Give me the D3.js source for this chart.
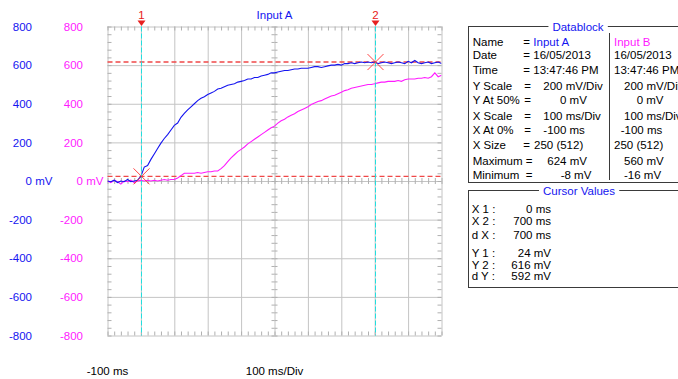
<!DOCTYPE html>
<html>
<head>
<meta charset="utf-8">
<script src="https://cdn.jsdelivr.net/npm/d3@7"></script>
<style>
  body { margin: 0; background: #fff; }
  svg text { font-family: "Liberation Sans", Arial, sans-serif; font-size: 11.5px; }
</style>
</head>
<body>
<div id="wrapper"></div>
<script>
// sample times (ms) and the two traces (mV)
const times = [
  -100, -90, -80, -70, -60, -50, -40, -30, -20, -10,
  0, 10, 20, 30, 40, 50, 60, 70, 80, 90, 100,
  110, 120, 130, 140, 150, 160, 170, 180, 190, 200,
  210, 220, 230, 240, 250, 260, 270, 280, 290, 300,
  310, 320, 330, 340, 350, 360, 370, 380, 390, 400,
  410, 420, 430, 440, 450, 460, 470, 480, 490, 500,
  510, 520, 530, 540, 550, 560, 570, 580, 590, 600,
  610, 620, 630, 640, 650, 660, 670, 680, 690, 700,
  710, 720, 730, 740, 750, 760, 770, 780, 790, 800,
  810, 820, 830, 840, 850, 860, 870, 880, 890, 900
];
const inputA = [
  0, -4, 4, -8, 0, -4, 8, -4, 0, 4,
  24, 72, 80, 112, 140, 168, 196, 220, 240, 264, 288,
  300, 330, 350, 368, 384, 400, 416, 428, 436, 448,
  456, 464, 476, 480, 488, 496, 500, 504, 512, 516,
  520, 528, 528, 536, 536, 544, 548, 552, 560, 560,
  564, 568, 572, 572, 576, 580, 580, 584, 584, 584,
  588, 592, 592, 588, 592, 596, 600, 600, 604, 600,
  608, 608, 612, 608, 612, 616, 612, 616, 612, 616,
  608, 612, 616, 612, 608, 612, 616, 612, 608, 620,
  612, 624, 612, 608, 612, 616, 608, 612, 616, 608
];
const inputB = [
  0, -8, 4, -4, -16, 0, -4, 4, -8, 0,
  4, 0, 4, 0, 4, 0, 4, 8, 4, 8, 8,
  16, 28, 40, 40, 40, 40, 44, 40, 44, 48,
  48, 52, 52, 64, 80, 100, 120, 136, 152, 164,
  176, 192, 204, 216, 228, 240, 252, 264, 276, 284,
  300, 312, 320, 332, 340, 348, 360, 368, 376, 384,
  396, 404, 412, 416, 424, 432, 440, 444, 452, 460,
  468, 472, 480, 484, 488, 492, 496, 500, 500, 504,
  508, 512, 512, 516, 516, 516, 520, 516, 524, 528,
  528, 528, 532, 532, 536, 532, 540, 560, 540, 548
];

const yTicks = [800, 600, 400, 200, 0, -200, -400, -600, -800];
const xGrid = [-100, 0, 100, 200, 300, 400, 500, 600, 700, 800, 900];
const cursorTimes = [0, 700];
const cursorLevels = [24, 616];
const cursorNames = ["1", "2"];

const dbLabels = ["Name", "Date", "Time", "Y Scale", "Y At 50%", "X Scale", "X At 0%", "X Size", "Maximum", "Minimum"];
const dbA = ["Input A", "16/05/2013", "13:47:46 PM", "200 mV/Div", "0 mV", "100 ms/Div", "-100 ms", "250 (512)", "624 mV", "-8 mV"];
const dbB = ["Input B", "16/05/2013", "13:47:46 PM", "200 mV/Div", "0 mV", "100 ms/Div", "-100 ms", "250 (512)", "560 mV", "-16 mV"];
const cvLabels = ["X 1 :", "X 2 :", "d X :", "Y 1 :", "Y 2 :", "d Y :"];
const cvValues = ["0 ms", "700 ms", "700 ms", "24 mV", "616 mV", "592 mV"];

const blue = "#1414f0";
const magenta = "#ff1aff";

const dimensions = {
  width: 678,
  height: 379,
  plot: { left: 107.5, right: 441.5, top: 26.5, bottom: 335.5 }
};

const svg = d3.select("#wrapper").append("svg")
  .attr("width", dimensions.width)
  .attr("height", dimensions.height);

const p = dimensions.plot;
const xScale = d3.scaleLinear().domain([-100, 900]).range([p.left, p.right]);
const yScale = d3.scaleLinear().domain([-800, 800]).range([p.bottom, p.top]);

// grid
const gridColor = "#c4c4c4";
const gx = svg.append("g").attr("transform", `translate(0,${p.bottom})`)
  .call(d3.axisBottom(xScale).tickValues(xGrid).tickSize(-(p.bottom - p.top)).tickFormat(""));
const gy = svg.append("g").attr("transform", `translate(${p.left},0)`)
  .call(d3.axisLeft(yScale).tickValues(yTicks).tickSize(-(p.right - p.left)).tickFormat(""));
[gx, gy].forEach(g => {
  g.select(".domain").remove();
  g.selectAll("line").attr("stroke", gridColor);
});

// minor ticks
const tickColor = "#b0b0b0";
const minorX = d3.range(-100, 901, 20);
const minorY = d3.range(-800, 801, 40);
function minor(g) {
  g.select(".domain").remove();
  g.selectAll("line").attr("stroke", tickColor);
}
svg.append("g").attr("transform", `translate(0,${p.top})`)
  .call(d3.axisTop(xScale).tickValues(minorX).tickSize(-4).tickFormat("")).call(minor);
svg.append("g").attr("transform", `translate(0,${p.bottom})`)
  .call(d3.axisBottom(xScale).tickValues(minorX).tickSize(-4).tickFormat("")).call(minor);
svg.append("g").attr("transform", `translate(0,${yScale(0)})`)
  .call(d3.axisBottom(xScale).tickValues(minorX).tickSize(3).tickFormat("")).call(minor);
svg.append("g").attr("transform", `translate(0,${yScale(0)})`)
  .call(d3.axisTop(xScale).tickValues(minorX).tickSize(3).tickFormat("")).call(minor);
svg.append("g").attr("transform", `translate(${p.left},0)`)
  .call(d3.axisLeft(yScale).tickValues(minorY).tickSize(-4).tickFormat("")).call(minor);
svg.append("g").attr("transform", `translate(${p.right},0)`)
  .call(d3.axisRight(yScale).tickValues(minorY).tickSize(-4).tickFormat("")).call(minor);
svg.append("g").attr("transform", `translate(${xScale(400)},0)`)
  .call(d3.axisLeft(yScale).tickValues(minorY).tickSize(3).tickFormat("")).call(minor);
svg.append("g").attr("transform", `translate(${xScale(400)},0)`)
  .call(d3.axisRight(yScale).tickValues(minorY).tickSize(3).tickFormat("")).call(minor);

// y labels, blue and magenta columns
function yLabels(xPos, color) {
  const g = svg.append("g").attr("transform", `translate(${xPos},0)`)
    .call(d3.axisLeft(yScale).tickValues(yTicks).tickSize(0).tickPadding(0).tickFormat(d => String(d)));
  g.select(".domain").remove();
  g.attr("font-family", null).attr("font-size", null);
  g.selectAll("text").attr("fill", color);
  g.selectAll(".tick").filter(d => d === 0).append("text")
    .attr("x", 0).attr("dy", "0.32em").attr("text-anchor", "start")
    .attr("fill", color).style("white-space", "pre").text(" mV");
}
yLabels(32, blue);
yLabels(83, magenta);

// x labels
svg.append("text").attr("x", xScale(-100)).attr("y", 375).attr("text-anchor", "middle").text("-100 ms");
svg.append("text").attr("x", xScale(400)).attr("y", 375).attr("text-anchor", "middle").text("100 ms/Div");

// title
svg.append("text").attr("x", xScale(400)).attr("y", 19).attr("text-anchor", "middle")
  .attr("fill", blue).text("Input A");

// cursor level lines
svg.selectAll(".level").data(cursorLevels).join("line")
  .attr("class", "level")
  .attr("x1", p.left).attr("x2", p.right)
  .attr("y1", d => yScale(d)).attr("y2", d => yScale(d))
  .attr("stroke", "#f04848").attr("stroke-width", 1.4).attr("stroke-dasharray", "5,3");

// traces
svg.append("clipPath").attr("id", "clip").append("rect")
  .attr("x", p.left).attr("y", p.top).attr("width", p.right - p.left).attr("height", p.bottom - p.top);
const line = d3.line().x((d, i) => xScale(times[i])).y(d => yScale(d));
svg.append("path").attr("d", line(inputB)).attr("fill", "none")
  .attr("stroke", magenta).attr("stroke-width", 1.1).attr("clip-path", "url(#clip)");
svg.append("path").attr("d", line(inputA)).attr("fill", "none")
  .attr("stroke", blue).attr("stroke-width", 1.1).attr("clip-path", "url(#clip)");

// cursor time lines
svg.selectAll(".cursor").data(cursorTimes).join("line")
  .attr("class", "cursor")
  .attr("x1", d => Math.round(xScale(d)) + 0.5).attr("x2", d => Math.round(xScale(d)) + 0.5)
  .attr("y1", p.top).attr("y2", p.bottom)
  .attr("stroke", "#22dede").attr("stroke-width", 1).attr("stroke-dasharray", "5,2");

// cursor markers at top
cursorTimes.forEach((t, i) => {
  const cx = Math.round(xScale(t)) + 0.5;
  svg.append("text").attr("x", cx).attr("y", 19).attr("text-anchor", "middle")
    .attr("fill", "#e82020").text(cursorNames[i]);
  svg.append("path").attr("d", `M${cx - 4},20.5 L${cx + 4},20.5 L${cx},26 Z`).attr("fill", "#e82020");
  const cy = yScale(cursorLevels[i]);
  svg.append("path")
    .attr("d", `M${cx - 8},${cy - 8} L${cx + 8},${cy + 8} M${cx - 8},${cy + 8} L${cx + 8},${cy - 8}`)
    .attr("stroke", "#ff3030").attr("stroke-width", 0.9).attr("fill", "none");
});

// datablock
function box(y, h, title, titleX) {
  svg.append("rect").attr("x", 468.5).attr("y", y).attr("width", 230).attr("height", h)
    .attr("fill", "none").attr("stroke", "#3a3a3a");
  const t = svg.append("text").attr("x", titleX).attr("y", y + 4).attr("text-anchor", "middle")
    .attr("fill", blue).text(title);
  const bb = t.node().getBBox();
  svg.insert("rect", () => t.node()).attr("x", bb.x - 4).attr("y", y - 2)
    .attr("width", bb.width + 8).attr("height", 4).attr("fill", "#fff");
}
box(26.5, 156, "Datablock", 578);
box(190.5, 97, "Cursor Values", 579);

svg.append("line").attr("x1", 609.5).attr("x2", 609.5).attr("y1", 33).attr("y2", 180)
  .attr("stroke", "#3a3a3a");

const dbRowY = [45.5, 59, 73.5, 89.5, 103.5, 119.5, 133.5, 148.5, 164.5, 178.5];
const dbEqX = [523.3, 523.3, 523.3, 524.3, 524.3, 524.3, 524.3, 523.3, 525.7, 525.7];
const dbAX = [533.3, 533.3, 533.3, 543.3, 560, 543.3, 543.3, 534, 547.3, 560.7];
const dbBX = [614, 614, 614, 624, 636.7, 624, 620.7, 614, 624, 624];
dbLabels.forEach((lab, i) => {
  const y = dbRowY[i];
  svg.append("text").attr("x", 472.7).attr("y", y).text(lab);
  svg.append("text").attr("x", dbEqX[i]).attr("y", y).text("=");
  svg.append("text").attr("x", dbAX[i]).attr("y", y).attr("fill", i === 0 ? blue : "#000").text(dbA[i]);
  svg.append("text").attr("x", dbBX[i]).attr("y", y).attr("fill", i === 0 ? magenta : "#000").text(dbB[i]);
});

const cvRowY = [212.5, 225, 239, 256.5, 268.5, 280];
cvLabels.forEach((lab, i) => {
  svg.append("text").attr("x", 471.7).attr("y", cvRowY[i]).text(lab);
  svg.append("text").attr("x", 551).attr("y", cvRowY[i]).attr("text-anchor", "end").text(cvValues[i]);
});
</script>
</body>
</html>
